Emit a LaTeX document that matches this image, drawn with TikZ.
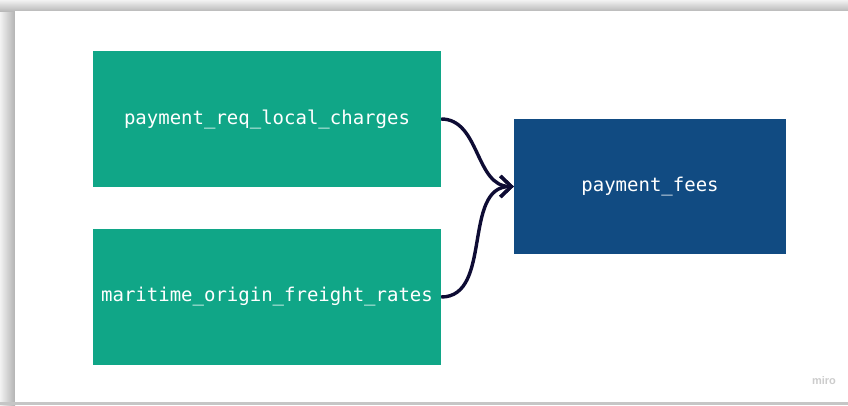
\documentclass[tikz,border=0pt]{standalone}
\usepackage{fontspec}
\usepackage{tikz}
\usetikzlibrary{arrows.meta}
\newfontfamily\tablefont{DejaVu Sans Mono}
\newfontfamily\markfont{Liberation Sans}
\definecolor{tablegreen}{RGB}{16,166,135}
\definecolor{tableblue}{RGB}{17,75,130}
\definecolor{linknavy}{RGB}{14,12,52}

\begin{document}
\begin{tikzpicture}[x=1pt, y=-1pt,
	table/.style={draw=none, minimum width=348pt, minimum height=136pt, inner sep=0pt, text=white, font=\tablefont\fontsize{19}{22}\selectfont},
	link/.style={draw=linknavy, line width=3.4pt, -{Straight Barb[length=11pt, width=21pt, line width=3.4pt]}}]
	\useasboundingbox (0,0) rectangle (848,405);
	% frame with shadow
	\shade[left color=gray!10, right color=gray!60] (0,0) rectangle (15,405);
	\shade[top color=gray!10, bottom color=gray!55] (0,0) rectangle (848,11);
	\fill[white] (15,11) rectangle (848,402);
	\fill[gray!45] (0,402) rectangle (848,405);
	% tables
	\node[table, fill=tablegreen] (charges) at (267,119) {payment\_req\_local\_charges};
	\node[table, fill=tablegreen] (freight) at (267,297) {maritime\_origin\_freight\_rates};
	\node[table, fill=tableblue, minimum width=272pt, minimum height=135pt] (fees) at (650,186.5) {payment\_fees};
	\draw[link] (charges.east) to[out=0, in=180] (fees.west);
	\draw[link] (freight.east) to[out=0, in=180] (fees.west);
	\node[text=gray!40, font=\markfont\fontsize{11}{12}\selectfont\bfseries] (miro) at (824,381) {miro};
\end{tikzpicture}
\end{document}
